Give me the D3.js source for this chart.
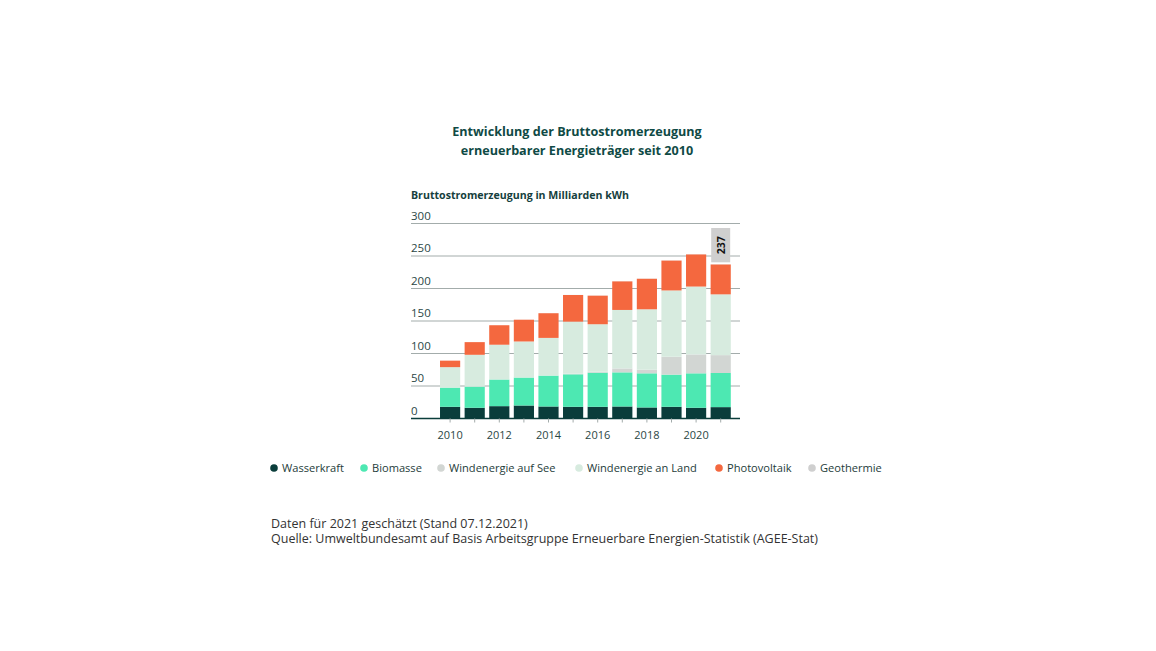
<!DOCTYPE html>
<html><head><meta charset="utf-8">
<script src="https://cdn.jsdelivr.net/npm/d3@7"></script>
<style>
html,body{margin:0;padding:0;background:#fff;}
svg{display:block;font-family:"Open Sans","Noto Sans",sans-serif;}
</style></head>
<body><svg id="c" width="1156" height="651"></svg>
<script>
const years = [2010,2011,2012,2013,2014,2015,2016,2017,2018,2019,2020,2021];
const seriesNames = ["Wasserkraft","Biomasse","Windenergie auf See","Windenergie an Land","Photovoltaik","Geothermie"];
const wasserkraft = [18,16.5,19,20,18.5,18,18,18.5,17,18,16.5,17.5];
const biomasse    = [29.5,32.5,41,43,47.5,50,52.5,52.5,52.5,49.5,53,52.5];
const windSee     = [0,0,0,0,0,1,1.5,6,5.5,27.5,29,27.5];
const windLand    = [31.5,49,53.5,55.5,58,80,73,90,93,102,104.5,93.5];
const photovoltaik= [10,19.5,30,33.5,38,41,44,44,47,46,49.5,46];
const geothermie  = [0.03,0.02,0.03,0.08,0.1,0.13,0.18,0.16,0.18,0.2,0.23,0.2];
const yTicks = [0,50,100,150,200,250,300];
const xTickLabels = [2010,2012,2014,2016,2018,2020];
const colors = ["#0a3d3b","#4de8b2","#d2d6d3","#d7ebdf","#f4683f","#cfcfcf"];
const totalLabel = {year:2021, text:"237"};

const svg = d3.select("#c");
const table = years.map((y,i)=>({year:y, "Wasserkraft":wasserkraft[i], "Biomasse":biomasse[i],
  "Windenergie auf See":windSee[i], "Windenergie an Land":windLand[i], "Photovoltaik":photovoltaik[i], "Geothermie":geothermie[i]}));
const stack = d3.stack().keys(seriesNames)(table);

const x = d3.scaleBand().domain(years).range([437.8,733]).paddingInner(0.18).paddingOuter(0.09);
const y = d3.scaleLinear().domain([0,300]).range([418.5,223.5]);
const textCol = "#15403d";

// title
svg.append("text").attr("x",577).attr("y",136).attr("text-anchor","middle")
  .attr("font-weight","bold").attr("font-size",12.6).attr("fill","#0f4a45")
  .text("Entwicklung der Bruttostromerzeugung");
svg.append("text").attr("x",577).attr("y",155).attr("text-anchor","middle")
  .attr("font-weight","bold").attr("font-size",12.6).attr("fill","#0f4a45")
  .text("erneuerbarer Energieträger seit 2010");

svg.append("text").attr("x",411).attr("y",199).attr("font-weight","bold")
  .attr("font-size",10.6).attr("fill",textCol).text("Bruttostromerzeugung in Milliarden kWh");

// gridlines + y labels
const g = svg.append("g");
yTicks.forEach(t=>{
  if(t>0) g.append("line").attr("x1",411).attr("x2",740).attr("y1",y(t)).attr("y2",y(t))
    .attr("stroke","#a3acab").attr("stroke-width",1);
  g.append("text").attr("x",411).attr("y",y(t)-4).attr("font-size",11.5).attr("fill","#2b4745").text(t);
});

// bars
stack.forEach((s,k)=>{
  svg.append("g").attr("fill",colors[k]).selectAll("rect").data(s).join("rect")
    .attr("x",d=>x(d.data.year)).attr("width",x.bandwidth())
    .attr("y",d=>y(d[1])).attr("height",d=>Math.max(0,y(d[0])-y(d[1])));
});

// axis
svg.append("line").attr("x1",411).attr("x2",740).attr("y1",y(0)).attr("y2",y(0))
  .attr("stroke","#0a3d3b").attr("stroke-width",1.3);
const xAxis = svg.append("g").attr("transform",`translate(0,${y(0)})`)
  .call(d3.axisBottom(x).tickSize(4).tickFormat(d=>xTickLabels.includes(d)?d:""));
xAxis.select(".domain").remove();
xAxis.selectAll(".tick line").attr("stroke","#a3acab");
xAxis.selectAll(".tick text").attr("font-family","'Open Sans',sans-serif").attr("font-size",11)
  .attr("fill","#2b4745").attr("dy","1.25em");

// total label 2021
const top21 = stack[stack.length-1].find(d=>d.data.year===totalLabel.year)[1];
const lx = x(totalLabel.year)+x.bandwidth()/2;
svg.append("rect").attr("x",lx-9.5).attr("y",228).attr("width",19).attr("height",y(top21)-2-228)
  .attr("fill","#cfcfcf");
svg.append("text").attr("transform",`translate(${lx+4},${(228+y(top21)-2)/2}) rotate(-90)`)
  .attr("text-anchor","middle").attr("font-weight","bold").attr("font-size",10.5).attr("fill","#111")
  .text(totalLabel.text);

// legend
const legX = [274,364,441,579,719,812];
seriesNames.forEach((n,i)=>{
  svg.append("circle").attr("cx",legX[i]).attr("cy",468).attr("r",3.8).attr("fill",colors[i]);
  svg.append("text").attr("x",legX[i]+8).attr("y",472).attr("font-size",11.1).attr("fill","#1e3c3a").text(n);
});

// footer
svg.append("text").attr("x",271).attr("y",528).attr("font-size",12.5).attr("fill","#333")
  .text("Daten für 2021 geschätzt (Stand 07.12.2021)");
svg.append("text").attr("x",271).attr("y",543).attr("font-size",12.5).attr("fill","#333")
  .text("Quelle: Umweltbundesamt auf Basis Arbeitsgruppe Erneuerbare Energien-Statistik (AGEE-Stat)");
</script></body></html>
